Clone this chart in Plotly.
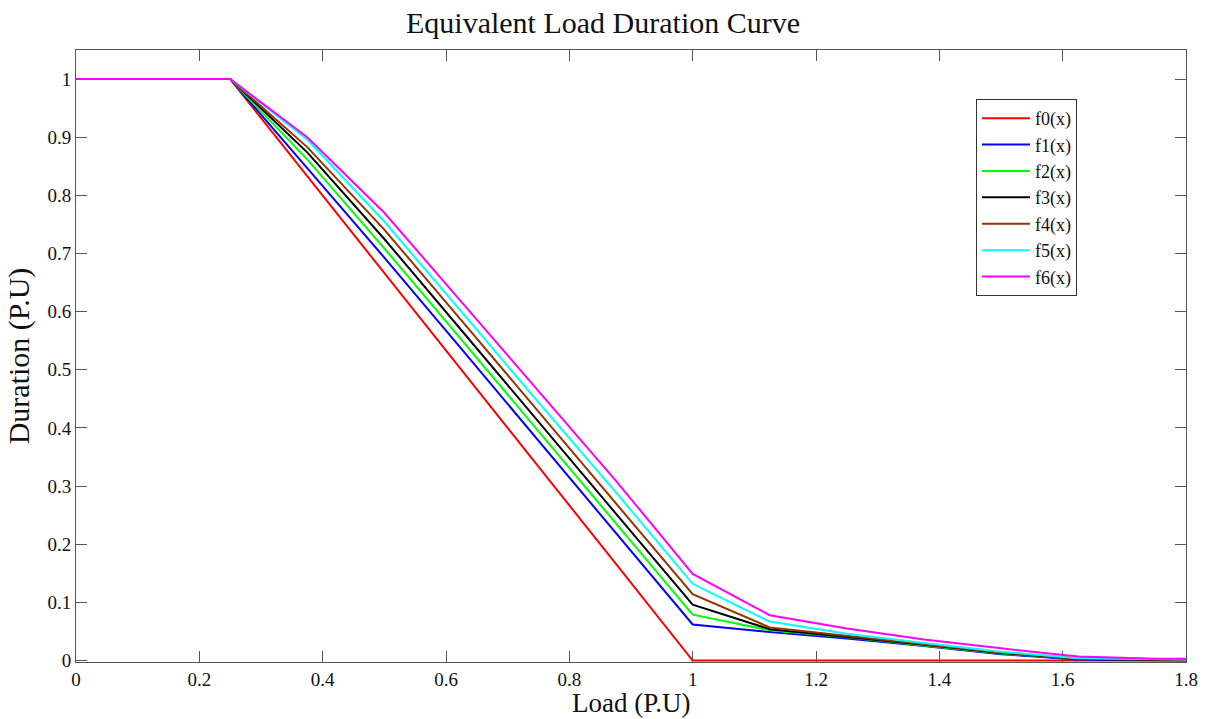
import plotly.graph_objects as go

# Load (P.U) breakpoints
load = [0, 0.25, 0.375, 0.5, 0.625, 0.75, 0.875, 1.0, 1.125, 1.25, 1.375, 1.5, 1.625, 1.75, 1.8]

f0 = [1, 1, 0.833, 0.667, 0.500, 0.333, 0.167, 0.0, 0, 0, 0, 0, 0, 0, 0]
f1 = [1, 1, 0.847, 0.693, 0.536, 0.378, 0.220, 0.062, 0.049, 0.038, 0.025, 0.011, 0.002, 0.0, 0.0]
f2 = [1, 1, 0.862, 0.709, 0.552, 0.394, 0.237, 0.079, 0.052, 0.040, 0.026, 0.012, 0.003, 0.001, 0.001]
f3 = [1, 1, 0.874, 0.725, 0.568, 0.411, 0.253, 0.096, 0.054, 0.041, 0.027, 0.013, 0.003, 0.001, 0.001]
f4 = [1, 1, 0.883, 0.741, 0.585, 0.428, 0.271, 0.114, 0.057, 0.043, 0.028, 0.014, 0.004, 0.001, 0.001]
f5 = [1, 1, 0.896, 0.755, 0.600, 0.444, 0.290, 0.132, 0.067, 0.046, 0.030, 0.015, 0.004, 0.002, 0.002]
f6 = [1, 1, 0.900, 0.770, 0.617, 0.463, 0.310, 0.149, 0.078, 0.055, 0.036, 0.021, 0.007, 0.003, 0.003]

names = ["f0(x)", "f1(x)", "f2(x)", "f3(x)", "f4(x)", "f5(x)", "f6(x)"]
series = [f0, f1, f2, f3, f4, f5, f6]
colors = ["#FF0000", "#0000FF", "#00FF00", "#000000", "#993300", "#00FFFF", "#FF00FF"]

x_ticks = [0, 0.2, 0.4, 0.6, 0.8, 1, 1.2, 1.4, 1.6, 1.8]
x_ticklabels = ["0", "0.2", "0.4", "0.6", "0.8", "1", "1.2", "1.4", "1.6", "1.8"]
y_ticks = [0, 0.1, 0.2, 0.3, 0.4, 0.5, 0.6, 0.7, 0.8, 0.9, 1]
y_ticklabels = ["0", "0.1", "0.2", "0.3", "0.4", "0.5", "0.6", "0.7", "0.8", "0.9", "1"]

FONT = "Liberation Serif, Times New Roman, serif"

fig = go.Figure()
for name, ys, c in zip(names, series, colors):
    fig.add_trace(go.Scatter(x=load, y=ys, mode="lines", name=name,
                             legendgroup=name,
                             line=dict(color=c, width=2)))

axis_common = dict(showline=True, linecolor="#555555", linewidth=1, mirror="ticks",
                   ticks="inside", ticklen=11, tickcolor="#555555", showgrid=False,
                   zeroline=False, automargin=False, layer="below traces",
                   tickfont=dict(family=FONT, size=19, color="#111111"))

fig.update_layout(
    width=1206, height=719,
    margin=dict(l=76, r=20, t=50, b=57),
    paper_bgcolor="white", plot_bgcolor="white",
    font=dict(family=FONT, color="#111111"),
    title=dict(text="Equivalent Load Duration Curve", x=0.5, xanchor="center",
               y=1 - 22 / 719, yanchor="middle", yref="container",
               font=dict(family=FONT, size=30, color="#111111")),
    xaxis=dict(range=[0, 1.8], tickvals=x_ticks, ticktext=x_ticklabels,
               **axis_common),
    yaxis=dict(range=[-0.0025, 1.05], tickvals=y_ticks, ticktext=y_ticklabels,
               title=dict(text="Duration (P.U)", standoff=8,
                          font=dict(family=FONT, size=30, color="#111111")),
               **axis_common),
    legend=dict(x=0.8108, y=0.92, xanchor="left", yanchor="top",
                bordercolor="#333333", borderwidth=1, bgcolor="white",
                tracegroupgap=0, itemwidth=48,
                font=dict(family=FONT, size=18, color="#111111")),
    showlegend=True,
)
fig.add_annotation(text="Load (P.U)", xref="paper", yref="paper", x=0.5, y=0,
                   xanchor="center", yanchor="middle", yshift=-41, showarrow=False,
                   font=dict(family=FONT, size=27, color="#111111"))

fig.write_html("out.html", config={"displayModeBar": False},
               post_script="document.body.style.margin='0px';")
